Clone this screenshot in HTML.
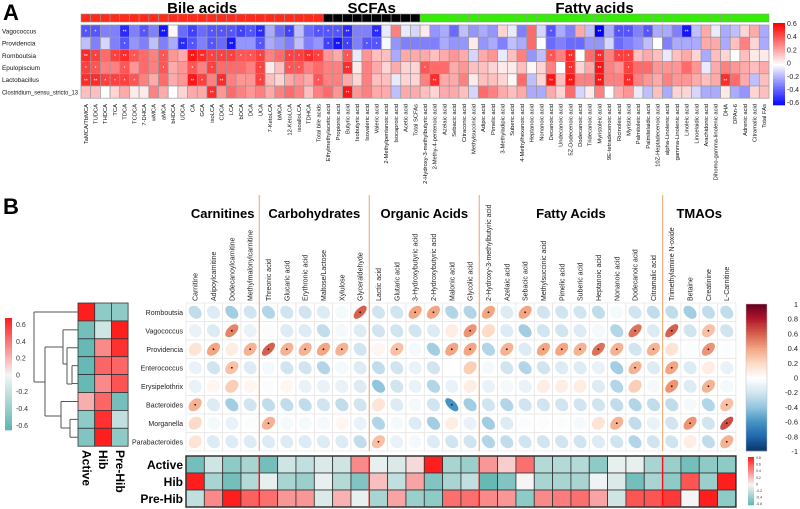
<!DOCTYPE html>
<html><head><meta charset="utf-8"><style>
body{margin:0;background:#fff}
svg{display:block;font-family:"Liberation Sans",sans-serif}
</style></head><body>
<svg id="fig" width="800" height="509" viewBox="0 0 800 509"></svg>
<script>
// ---------- Panel A data ----------
const aRows=["Vagococcus","Providencia","Romboutsia","Epulopiscium","Lactobacillus","Clostridium_sensu_stricto_13"];
const aBile=["TaMCA/TbMCA","TUDCA","THDCA","TCA","TDCA","TCDCA","7-DHCA","wMCA","aMCA","bHDCA","UDCA","CA","GCA","isoLCA","CDCA","LCA","bDCA","DCA","UCA","7-KetoLCA","bMCA","12-KetoLCA","isoalloLCA","TDHCA","Total bile acids"];
const aScfa=["Ethylmethylacetic acid","Propionic acid","Butyric acid","Isobutyric acid","Isovaleric acid","Valeric acid","2-Methylpentanoic acid","Isocaproic acid","Acetic acid","Total SCFAs"];
const aFa=["2-Hydroxy-3-methylbutyric acid","2-Methy-4-pentenoic acid","Azelaic acid","Sebacic acid","Citraconic acid","Methylsuccinic acid","Adipic acid","Pimelic acid","3-Methyladipic acid","Suberic acid","4-Methylhexanoic acid","Heptanoic acid","Nonanoic acid","Decanoic acid","Undecanoic acid","5Z-Dodecenoic acid","Dodecanoic acid","Tridecanoic acid","Myristoleic acid","9E-tetradecenoic acid","Ricinoleic acid","Myristic acid","Palmitoleic acid","Palmitelaidic acid","10Z-Heptadecenoic acid","alpha-Linolenic acid","gamma-Linolenic acid","Linoleic acid","Linoelaidic acid","Arachidonic acid","Dihomo-gamma-linolenic acid","DHA","DPAn-6","Adrenic acid","Citramalic acid","Total FAs"];
const aVals=[
[-0.4,-0.4,-0.3,-0.3,-0.5,-0.3,-0.4,-0.3,-0.55,0.02,-0.35,-0.45,-0.35,-0.4,-0.4,-0.4,-0.45,-0.4,-0.5,-0.2,-0.35,-0.45,-0.15,-0.35,-0.4, -0.4,-0.4,-0.5,-0.3,-0.3,-0.5,-0.05,0.3,-0.05,-0.1, 0.05,-0.25,-0.2,-0.35,-0.15,-0.25,-0.2,-0.25,0.1,-0.05,-0.3,0.35,-0.1,-0.4,-0.2,-0.3,0.2,-0.15,-0.6,-0.2,-0.4,-0.4,-0.3,-0.4,-0.2,-0.2,-0.3,-0.55,-0.15,0.2,-0.05,-0.2,-0.15,0.1,0.2,-0.2],
[-0.15,-0.3,-0.1,-0.3,-0.4,-0.25,-0.3,-0.15,-0.3,-0.2,-0.5,-0.4,-0.3,-0.4,-0.35,-0.55,-0.25,-0.25,-0.4,-0.2,-0.25,-0.3,-0.15,-0.3,-0.25, -0.45,-0.55,-0.45,-0.3,-0.4,-0.4,-0.02,-0.25,-0.3,-0.3, -0.3,-0.3,-0.2,-0.25,-0.25,0.05,-0.25,-0.2,-0.3,-0.15,-0.2,0.35,0,-0.35,-0.3,-0.35,-0.35,-0.25,-0.25,-0.1,-0.35,-0.3,-0.25,-0.15,0,-0.3,-0.2,-0.2,-0.2,0.2,0.2,-0.2,0.15,0.3,0.1,-0.2],
[0.5,0.45,0.35,0.45,0.5,0.4,0.35,0.3,0.4,0.25,0.2,0.55,0.5,0.45,0.45,0.45,0.4,0.4,0.45,0.3,0.35,0.45,0.45,0.5,0.45, 0.25,0.2,0.4,-0.05,0.25,0.15,0.15,-0.2,0.2,0.2, 0.2,0.15,0.2,0.25,0.2,-0.1,0.2,0.25,-0.05,0.15,0.3,-0.25,-0.15,0.4,0.3,0.5,0,0.35,0.5,0.3,0.45,0.45,0.15,0.2,0.15,-0.05,0.15,0.2,0.1,-0.2,0.15,0.1,0,0.15,0.05,0.05],
[0.45,0.4,0.3,0.3,0.4,0.25,0.35,0.3,0.4,0.2,0.25,0.4,0.3,0.45,0.35,0.35,0.35,0.3,0.45,0.05,0.15,0.4,0.4,0.3,0.35, 0.3,0.3,0.5,0.05,0.3,0.2,0.1,0.2,0.1,0.1, 0.4,0.35,0.35,0.2,0.25,0.15,0.15,0.1,0.05,0.05,0.15,0.02,0.1,0.3,0,0.5,0.1,0.2,0.55,0.3,0.25,0.45,0.35,0.35,0.25,0.25,0.25,0.35,0.25,-0.05,0.2,0.3,0.25,0.2,0.15,0.2],
[0.5,0.5,0.45,0.45,0.45,0.4,0.3,0.2,0.35,0.2,0.25,0.55,0.45,0.3,0.5,0.3,0.25,0.25,0.45,0.15,0.1,0.2,0.25,0.2,0.4, 0.3,0.3,0.2,0.1,0.3,0.15,0.15,-0.05,0.1,0.1, 0.3,0.5,0.2,0.2,0.3,0.05,0.15,0.15,0.1,0.02,0.35,-0.15,0.1,0.55,0.15,0.55,0.3,0.3,0.55,0.3,0.3,0.5,0.3,0.25,0.2,0.3,0.25,0.25,0.2,0.15,0.2,0.5,0.35,0.2,-0.15,0.15],
[0.15,0.15,0,0.1,0.2,0.05,0.05,0.3,0.2,0,0.1,0.2,0.2,0.5,0.25,0.35,0.3,0.25,0.3,0.2,0.3,0.35,0.3,0.15,0.3, 0.35,0.25,0.55,0.25,0.3,0.2,0.2,-0.15,0.2,0.2, 0.15,0.1,0.2,0.2,0.15,-0.1,0.35,0.3,0.2,0.15,0.2,-0.2,-0.2,0.2,0.1,0.35,-0.1,0.05,0.3,0,0.2,0.25,-0.05,-0.15,0.15,-0.2,0.1,0.1,-0.1,-0.2,-0.2,0.05,-0.2,-0.25,0.1,0.15]
];
const aTicks=["0.6","0.4","0.2","0","-0.2","-0.4","-0.6"];

// ---------- Panel B data ----------
const bRows=["Romboutsia","Vagococcus","Providencia","Enterococcus","Erysipelothrix","Bacteroides","Morganella","Parabacteroides"];
const bGroups=["Carnitines","Carbohydrates","Organic Acids","Fatty Acids","TMAOs"];
const bGroupSizes=[4,6,6,10,4];
const bCols=["Carnitine","Adipoylcarnitine","Dodecanoylcarnitine","Methylmalonylcarnitine","Threonic acid","Glucaric acid","Erythronic acid","Maltose/Lactose","Xylulose","Glyceraldehyde","Lactic acid","Glutaric acid","3-Hydroxybutyric acid","2-Hydroxybutyric acid","Malonic acid","Glycolic acid","2-Hydroxy-3-methylbutyric acid","Azelaic acid","Sebacic acid","Methylsuccinic acid","Pimelic acid","Suberic acid","Heptanoic acid","Nonanoic acid","Dodecanoic acid","Citramalic acid","Trimethylamine N-oxide","Betaine","Creatinine","L-Carnitine"];
const bCorr=[
[-0.25,-0.15,-0.35,-0.2,-0.3,-0.2,-0.2,-0.15,-0.05,0.6,-0.2,-0.2,0.4,0.4,-0.3,-0.3,0.4,-0.15,0.4,-0.2,-0.2,-0.2,-0.25,-0.05,-0.2,-0.25,-0.25,-0.35,-0.25,-0.25],
[-0.1,-0.15,0.5,-0.1,-0.02,-0.15,-0.15,-0.25,-0.05,-0.15,-0.2,-0.2,-0.2,-0.15,0.1,0.45,0.2,-0.15,-0.35,-0.2,-0.2,-0.15,-0.05,-0.3,0.55,-0.15,0.6,-0.2,0.3,-0.2],
[0.15,0.4,0.1,0.35,0.6,0.35,0.35,0.4,0.35,-0.2,0.05,0.3,-0.05,-0.35,0.4,0.4,-0.3,0.35,-0.15,0.4,0.4,0.35,0.55,0.35,-0.2,0.35,0.15,-0.02,0.45,-0.02],
[-0.1,-0.2,0.3,-0.15,-0.05,-0.2,-0.2,-0.3,-0.05,-0.15,-0.25,-0.2,-0.1,-0.2,0,0.25,-0.05,-0.2,-0.3,-0.2,-0.15,-0.15,-0.1,-0.35,0.35,-0.15,0.4,-0.15,0.1,-0.1],
[-0.1,0.05,0.25,0.05,-0.02,0.05,-0.1,-0.1,-0.1,-0.15,-0.4,-0.2,-0.1,-0.3,-0.1,0.1,-0.1,-0.05,-0.1,0.1,0.1,0.1,-0.15,-0.3,0.25,-0.05,0.45,-0.15,0.35,-0.05],
[0.35,-0.15,-0.35,-0.2,-0.25,-0.25,-0.25,-0.2,-0.25,-0.2,0.15,-0.15,-0.05,-0.2,-0.6,-0.35,-0.2,-0.3,-0.2,-0.2,-0.2,-0.2,-0.2,-0.25,-0.3,-0.25,-0.25,-0.05,-0.3,0.3],
[0.2,-0.05,-0.1,-0.02,0.35,-0.05,-0.05,-0.05,0.05,-0.1,-0.3,-0.05,-0.15,-0.35,0.1,-0.1,-0.35,-0.15,-0.02,-0.02,-0.02,-0.05,0.15,0.35,-0.25,-0.1,-0.2,0.45,-0.2,0.65],
[0.15,-0.15,-0.15,-0.15,-0.15,-0.15,-0.15,-0.15,-0.15,-0.25,0.3,-0.1,-0.05,-0.15,-0.2,-0.2,-0.3,-0.25,-0.2,-0.2,-0.2,-0.2,-0.15,-0.2,-0.3,-0.2,-0.2,0.1,-0.25,0.35]
];
const stateNames=["Active","Hib","Pre-Hib"];
const stateVals=[
[-0.5,-0.15,-0.4,-0.3,-0.5,-0.15,-0.2,-0.1,-0.15,0.4,-0.05,-0.1,0.1,0.8,-0.3,-0.35,0.35,0.15,0.5,-0.25,-0.25,-0.25,-0.4,-0.05,-0.05,-0.3,-0.35,-0.5,-0.4,-0.4],
[0.8,-0.3,-0.5,-0.25,-0.05,-0.3,-0.35,-0.05,-0.25,-0.45,0.2,-0.2,0.3,-0.45,-0.3,-0.2,-0.55,-0.45,0,-0.3,-0.3,-0.3,-0.02,-0.1,-0.5,-0.3,-0.4,0.6,-0.35,0.8],
[-0.2,0.4,0.8,0.55,0.5,0.35,0.35,-0.1,0.25,-0.05,-0.3,0.3,-0.35,-0.4,0.5,0.5,0.4,0.35,-0.4,0.4,0.45,0.5,0.3,-0.15,0.6,0.6,0.7,0,0.8,-0.4]
];
const leftVals=[[0.8,-0.4,-0.4],[-0.5,-0.15,0.8],[-0.55,0.3,0.55],[-0.55,0.4,0.4],[-0.55,0.3,0.45],[0.2,0.4,-0.5],[-0.4,0.55,-0.2],[-0.45,0.8,-0.4]];
const bTicks=["1","0.8","0.6","0.4","0.2","0","-0.2","-0.4","-0.6","-0.8","-1"];
const leftTicks=["0.6","0.4","0.2","0","-0.2","-0.4","-0.6"];
const smallTicks=["0.8","0.6","0.4","0.2","0","-0.2","-0.4","-0.6"];

// ---------- helpers ----------
const NS="http://www.w3.org/2000/svg";
const svg=document.getElementById('fig');
function mk(tag,attrs,parent){const e=document.createElementNS(NS,tag);for(const k in attrs)e.setAttribute(k,attrs[k]);(parent||svg).appendChild(e);return e;}
function txt(s,attrs,parent){const e=mk('text',attrs,parent);e.textContent=s;return e;}
function lerp(a,b,t){return a.map((v,i)=>Math.round(v+(b[i]-v)*t));}
function grad(stops,t){t=Math.max(0,Math.min(1,t));const n=stops.length-1;const i=Math.min(n-1,Math.floor(t*n));const c=lerp(stops[i],stops[i+1],t*n-i);return `rgb(${c[0]},${c[1]},${c[2]})`;}
const bwr=[[0,0,255],[255,255,255],[255,0,0]];
const rdbu=[[5,48,97],[33,102,172],[67,147,195],[146,197,222],[209,229,240],[255,255,255],[253,219,199],[244,165,130],[214,96,77],[178,24,43],[103,0,31]];
const teal=[[90,180,175],[245,245,245],[255,30,30]];
function colA(v){return grad(bwr,(v+0.6)/1.2);}
function colB(v){return grad(rdbu,(v+1)/2);}
function colT(v){return v<0?grad([teal[0],teal[1]],(v+0.6)/0.6):grad([teal[1],teal[2]],v/0.8);}

// ---------- Panel A ----------
const gA=mk('g',{});
txt('A',{x:3,y:20,'font-size':22,'font-weight':'bold',},gA);
const aCols=aBile.concat(aScfa,aFa);
const ax0=81,aCw=9.69,ay0=25,aRh=12.2;
const ax=i=>ax0+i*aCw, ay=j=>ay0+j*aRh;
const aTitles=[["Bile acids",0,aBile.length],["SCFAs",aBile.length,aScfa.length],["Fatty acids",aBile.length+aScfa.length,aFa.length]];
const aBarCol=["#ff2a1a","#000000","#33ee00"];
aTitles.forEach((t,g)=>{
  txt(t[0],{x:ax(t[1])+t[2]*aCw/2,y:13,'text-anchor':'middle','font-size':15,'font-weight':'bold',},gA);
  for(let i=t[1];i<t[1]+t[2];i++){
    mk('rect',{x:ax(i),y:14,width:aCw,height:8,fill:aBarCol[g],stroke:'#999','stroke-width':0.6,},gA);
  }
});
aRows.forEach((r,j)=>{
  const attrs={x:2,y:ay(j)+aRh/2+2.3,'font-size':6.4,fill:'#111',};
  if(r.length>20){attrs.textLength=76;attrs.lengthAdjust='spacingAndGlyphs';}
  txt(r,attrs,gA);
  aVals[j].forEach((v,i)=>{
    const c=mk('rect',{x:ax(i),y:ay(j),width:aCw,height:aRh,fill:colA(v),stroke:'#999','stroke-width':0.7},gA);
    
    
    if(Math.abs(v)>=0.4){txt(Math.abs(v)>=0.5?'**':'*',{x:ax(i)+aCw/2,y:ay(j)+aRh/2+2.5,'text-anchor':'middle','font-size':5,fill:'#fff'},gA);}
  });
});
aCols.forEach((c,i)=>{
  const x=ax(i)+aCw/2+2;
  txt(c,{x:0,y:0,transform:`translate(${x},104) rotate(-90)`,'text-anchor':'end','font-size':5.8,fill:'#111',},gA);
});
// colorbar A
const cbA=mk('g',{},gA);
for(let k=0;k<60;k++){const t=k/60;mk('rect',{x:773,y:23+t*82,width:12,height:82/60+0.3,fill:colA(0.6-1.2*t),stroke:'none'},cbA);}
aTicks.forEach((t,k)=>{txt(t,{x:787,y:26+k*13.2,'font-size':7,fill:'#222'},cbA);});

// ---------- Panel B ----------
const gB=mk('g',{});
txt('B',{x:3,y:214,'font-size':22,'font-weight':'bold',},gB);
const bx0=186,bCw=18.33,by0=303,bRh=18.5;
const bx=i=>bx0+i*bCw, by=j=>by0+j*bRh;
bRows.forEach((r,j)=>{
  txt(r,{x:183,y:by(j)+bRh/2+2.5,'text-anchor':'end','font-size':7,fill:'#222',},gB);
  bCorr[j].forEach((v,i)=>{
    mk('rect',{x:bx(i),y:by(j),width:bCw,height:bRh,fill:'#fff',stroke:'#e4e4e4','stroke-width':0.7},gB);
    const R=bCw/2, a=R*0.68*Math.sqrt(1+Math.abs(v)), b=R*0.68*Math.sqrt(1-Math.abs(v));
    const cx=bx(i)+bCw/2, cy=by(j)+bRh/2;
    const e=mk('ellipse',{cx:cx,cy:cy,rx:a*1.05,ry:b*1.05,fill:colB(v),transform:`rotate(${v>=0?-45:45} ${cx} ${cy})`},gB);
    
    
    if(v>=0.3||v<=-0.55) mk('circle',{cx:cx,cy:cy,r:0.9,fill:'#111'},gB);
  });
});
bCols.forEach((c,i)=>{
  txt(c,{x:0,y:0,transform:`translate(${bx(i)+bCw/2+2.5},301) rotate(-90)`,'font-size':7,fill:'#222',},gB);
});
let acc=0;
bGroups.forEach((g,k)=>{
  const s=bGroupSizes[k];
  txt(g,{x:bx(acc)+s*bCw/2,y:218,'text-anchor':'middle','font-size':13,'font-weight':'bold',},gB);
  acc+=s;
  if(k<bGroups.length-1){
    mk('line',{x1:bx(acc),x2:bx(acc),y1:195,y2:by(8),stroke:'#f4b183','stroke-width':1.2,},gB);
  }
});
const cbB=mk('g',{},gB);
for(let k=0;k<100;k++){const t=k/100;mk('rect',{x:746,y:304+t*147,width:21,height:1.8,fill:colB(1-2*t)},cbB);}
mk('rect',{x:746,y:304,width:21,height:147,fill:'none',stroke:'#bbb','stroke-width':0.5},cbB);
bTicks.forEach((t,k)=>{txt(t,{x:798,y:307+k*14.7,'text-anchor':'end','font-size':7.5,fill:'#222'},cbB);});

const hy0=456,hRh=17;
stateNames.forEach((s,j)=>{
  txt(s,{x:183,y:hy0+j*hRh+hRh/2+4.5,'text-anchor':'end','font-size':12,'font-weight':'bold',},gB);
  stateVals[j].forEach((v,i)=>{
    const c=mk('rect',{x:bx(i),y:hy0+j*hRh,width:bCw,height:hRh,fill:colT(v),stroke:'#333','stroke-width':0.8},gB);
    
    
  });
});
mk('rect',{x:bx0,y:hy0,width:30*bCw,height:3*hRh,fill:'none',stroke:'#333','stroke-width':1.5},gB);
acc=0;
bGroupSizes.slice(0,-1).forEach(s=>{acc+=s;mk('line',{x1:bx(acc),x2:bx(acc),y1:hy0,y2:hy0+3*hRh,stroke:'#ff1010','stroke-width':1.4,},gB);});
const cbS=mk('g',{},gB);
for(let k=0;k<50;k++){const t=k/50;mk('rect',{x:748,y:457+t*48,width:6,height:1.2,fill:colT(0.8-1.4*t)},cbS);}
smallTicks.forEach((t,k)=>{txt(t,{x:756,y:459+k*6.6,'font-size':3.5,fill:'#333'},cbS);});

const lx0=78,lCw=16.7,ly0=303,lRh=17.9;
leftVals.forEach((row,j)=>row.forEach((v,i)=>{
  const c=mk('rect',{x:lx0+i*lCw,y:ly0+j*lRh,width:lCw,height:lRh,fill:colT(v*0.8/0.6>0.8?0.8:(v>0?v*1.33:v)),stroke:'#333','stroke-width':0.8},gB);
  
  
}));
stateNames.forEach((s,i)=>{
  txt(s,{x:0,y:0,transform:`translate(${lx0+i*lCw+lCw/2-4},450) rotate(90)`,'font-size':12,'font-weight':'bold',},gB);
});
const cbL=mk('g',{},gB);
for(let k=0;k<60;k++){const t=k/60;mk('rect',{x:5,y:318+t*112,width:7,height:2.2,fill:colT(t<0.5?0.8*(1-t*2):-0.6*(t-0.5)*2)},cbL);}
leftTicks.forEach((t,k)=>{txt(t,{x:16,y:327+k*16.8,'font-size':7,fill:'#333'},cbL);});
const dg=mk('g',{stroke:'#555','stroke-width':1,fill:'none'},gB);
const ly=j=>ly0+j*lRh+lRh/2;
const segs=[
 [34,ly(0),78,ly(0)],[34,ly(0),34,382],[34,382,45,382],[45,347,45,416],
 [45,347,63,347],[63,ly(1),63,364],[63,ly(1),78,ly(1)],[63,364,67,364],[67,ly(2),67,384],[67,ly(2),78,ly(2)],
 [67,384,72,384],[72,ly(3),72,ly(4)],[72,ly(3),78,ly(3)],[72,ly(4),78,ly(4)],
 [45,416,61,416],[61,ly(5),61,428],[61,ly(5),78,ly(5)],[61,428,70,428],[70,ly(6),70,ly(7)],[70,ly(6),78,ly(6)],[70,ly(7),78,ly(7)]
];
segs.forEach(s=>mk('line',{x1:s[0],y1:s[1],x2:s[2],y2:s[3]},dg));
</script>
</body></html>
